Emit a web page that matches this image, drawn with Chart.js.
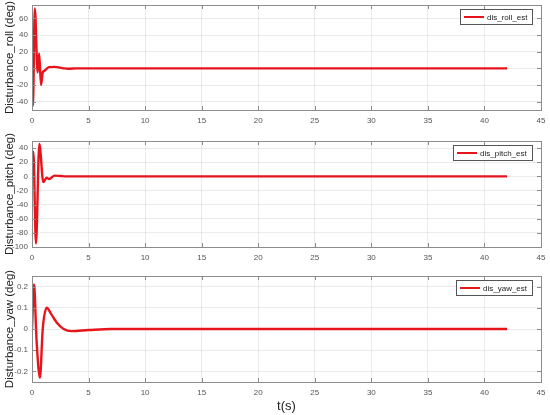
<!DOCTYPE html>
<html>
<head>
<meta charset="utf-8">
<script src="https://cdn.jsdelivr.net/npm/chart.js@4/dist/chart.umd.min.js"></script>
<style>
  body { margin: 0; background: #fff; }
  #wrap { position: relative; width: 550px; height: 415px; }
  .box { position: absolute; left: 0; width: 550px; }
</style>
</head>
<body>
<div id="wrap">
  <div class="box" style="top:0;height:135px"><canvas id="c1"></canvas></div>
  <div class="box" style="top:128px;height:140px"><canvas id="c2"></canvas></div>
  <div class="box" style="top:262px;height:153px"><canvas id="c3"></canvas></div>
</div>
<script>
// values
const rollTime = [0, 0.08, 0.25, 0.5, 0.63, 0.8, 0.95, 1.1, 1.5, 2.0, 2.8, 3.2, 4, 42];
const rollVals = [0, -45, 72, -5, 18, -20, -5, -3, 1.5, 1.8, 0, -0.5, 0, 0];
const rollTicks = [-40, -20, 0, 20, 40, 60];

const pitchTime = [0, 0.12, 0.35, 0.65, 1.0, 1.3, 1.5, 2.0, 2.5, 3, 42];
const pitchVals = [0, 35, -95, 46, -8, -2, -4, 1, 0.5, 0, 0];
const pitchTicks = [-100, -80, -60, -40, -20, 0, 20, 40];

const yawTime = [0, 0.18, 0.4, 0.7, 0.95, 1.3, 1.7, 2.2, 2.8, 3.5, 5, 7, 42];
const yawVals = [0, 0.21, -0.05, -0.23, 0, 0.1, 0.07, 0.03, 0, -0.01, -0.005, 0, 0];
const yawTicks = [-0.2, -0.1, 0, 0.1, 0.2];

const xTicks = [0, 5, 10, 15, 20, 25, 30, 35, 40, 45];

const RED = '#e8141b';
const AXIS = '#8c8c8c';
const FONT = '"Liberation Sans", Arial, sans-serif';

// box around the plot, inward ticks on all sides, legend inside top-right
const boxPlugin = {
  id: 'boxPlugin',
  afterDraw(chart) {
    const {ctx, chartArea: a, scales} = chart;
    ctx.save();
    ctx.strokeStyle = AXIS;
    ctx.lineWidth = 1;
    ctx.strokeRect(Math.round(a.left) + 0.5, Math.round(a.top) + 0.5,
      Math.round(a.right - a.left), Math.round(a.bottom - a.top));
    ctx.beginPath();
    scales.x.ticks.forEach(t => {
      const px = Math.round(scales.x.getPixelForValue(t.value)) + 0.5;
      ctx.moveTo(px, a.bottom); ctx.lineTo(px, a.bottom - 4);
      ctx.moveTo(px, a.top); ctx.lineTo(px, a.top + 4);
    });
    scales.y.ticks.forEach(t => {
      const py = Math.round(scales.y.getPixelForValue(t.value)) + 0.5;
      ctx.moveTo(a.left, py); ctx.lineTo(a.left + 4, py);
      ctx.moveTo(a.right, py); ctx.lineTo(a.right - 4, py);
    });
    ctx.stroke();

    // legend
    const label = chart.data.datasets[0].label;
    ctx.font = '8px ' + FONT;
    const tw = ctx.measureText(label).width;
    const w = 4 + 20 + 3 + tw + 5;
    const h = 15;
    const x = Math.round(a.right - 9 - w);
    const y = Math.round(a.top + 4);
    ctx.fillStyle = '#fff';
    ctx.fillRect(x, y, w, h);
    ctx.strokeStyle = '#555';
    ctx.strokeRect(x + 0.5, y + 0.5, Math.round(w), h);
    ctx.strokeStyle = RED;
    ctx.lineWidth = 2;
    ctx.beginPath();
    ctx.moveTo(x + 4, y + h / 2 + 0.5);
    ctx.lineTo(x + 24, y + h / 2 + 0.5);
    ctx.stroke();
    ctx.fillStyle = '#222';
    ctx.textBaseline = 'middle';
    ctx.fillText(label, x + 27, y + h / 2 + 1);
    ctx.restore();
  }
};

function makeChart(id, times, vals, yTicks, label, yTitle, yMin, yMax, cfg) {
  const points = times.map((t, i) => ({x: t, y: vals[i]}));
  return new Chart(document.getElementById(id), {
    type: 'line',
    data: {
      datasets: [{
        label: label,
        data: points,
        borderColor: RED,
        borderWidth: 2.4,
        pointRadius: 0,
        cubicInterpolationMode: 'monotone',
        fill: false
      }]
    },
    options: {
      responsive: true,
      maintainAspectRatio: false,
      animation: false,
      events: [],
      layout: { padding: { top: cfg.padTop, right: 9, left: 0, bottom: 0 } },
      plugins: { legend: { display: false }, tooltip: { enabled: false } },
      scales: {
        x: {
          type: 'linear',
          min: 0,
          max: 45,
          afterBuildTicks: s => { s.ticks = xTicks.map(v => ({value: v})); },
          afterFit: s => { s.height = cfg.xHeight; s.paddingLeft = 0; s.paddingRight = 0; },
          grid: { color: 'rgba(0,0,0,0.08)', drawTicks: false },
          border: { display: false },
          ticks: { color: '#555', font: { size: 8, family: FONT }, padding: 6, maxRotation: 0 },
          title: {
            display: !!cfg.xTitle,
            text: cfg.xTitle || '',
            color: '#222',
            font: { size: 13, family: FONT },
            padding: { top: 0, bottom: 1 }
          }
        },
        y: {
          min: yMin,
          max: yMax,
          afterBuildTicks: s => { s.ticks = yTicks.map(v => ({value: v})); },
          afterFit: s => { s.width = 32; s.paddingTop = 0; s.paddingBottom = 0; },
          grid: { color: 'rgba(0,0,0,0.08)', drawTicks: false },
          border: { display: false },
          ticks: { color: '#555', font: { size: 8, family: FONT }, padding: 4 },
          title: {
            display: true,
            text: yTitle,
            color: '#222',
            font: { size: 11.5, family: FONT },
            padding: { top: 3, bottom: 0 }
          }
        }
      }
    },
    plugins: [boxPlugin]
  });
}

makeChart('c1', rollTime, rollVals, rollTicks, 'dis_roll_est', 'Disturbance_roll (deg)', -50, 76,
  { padTop: 5, xHeight: 25 });
makeChart('c2', pitchTime, pitchVals, pitchTicks, 'dis_pitch_est', 'Disturbance_pitch (deg)', -100, 50,
  { padTop: 13, xHeight: 21 });
makeChart('c3', yawTime, yawVals, yawTicks, 'dis_yaw_est', 'Disturbance_yaw (deg)', -0.25, 0.25,
  { padTop: 14, xHeight: 33, xTitle: 't(s)' });
</script>
</body>
</html>
